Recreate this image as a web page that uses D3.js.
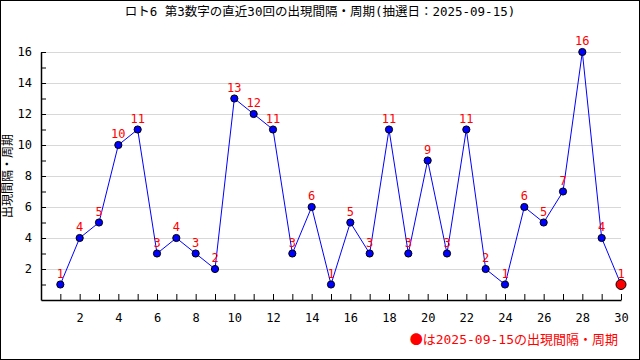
<!DOCTYPE html>
<html>
<head>
<meta charset="utf-8">
<script src="https://cdn.jsdelivr.net/npm/d3@7"></script>
<style>
  body { margin: 0; background: #fff; }
  svg text { font-family: "DejaVu Sans Mono", "Noto Sans CJK JP", monospace; }
</style>
</head>
<body>
<svg id="chart"></svg>
<script>
let draws = d3.range(1, 31);
let gaps = [1, 4, 5, 10, 11, 3, 4, 3, 2, 13, 12, 11, 3, 6, 1, 5, 3, 11, 3, 9, 3, 11, 2, 1, 6, 5, 7, 16, 4, 1];
let title = "ロト6 第3数字の直近30回の出現間隔・周期(抽選日：2025-09-15)";
let yLabel = "出現間隔・周期";
let legendMark = "●";
let legendText = "は2025-09-15の出現間隔・周期";

const width = 640;
const height = 360;

let svg = d3.select("svg#chart")
  .attr("width", width)
  .attr("height", height);

svg.append("rect")
  .attr("x", 0.5).attr("y", 0.5)
  .attr("width", width - 1).attr("height", height - 1)
  .attr("fill", "#fff").attr("stroke", "#000");

let margin = { top: 52, right: 19, bottom: 60, left: 41 };
let plotWidth = width - margin.left - margin.right;
let plotHeight = height - margin.top - margin.bottom;

let x = d3.scaleLinear().domain([0, 30]).range([0, plotWidth]);
let y = d3.scaleLinear().domain([0, 16]).range([plotHeight, 0]);

let plot = svg.append("g")
  .attr("transform", "translate(" + margin.left + "," + margin.top + ")");

// grid lines at even values
plot.append("g")
  .selectAll("line")
  .data(d3.range(2, 17, 2))
  .enter().append("line")
  .attr("x1", 0).attr("x2", plotWidth)
  .attr("y1", d => y(d) + 0.5).attr("y2", d => y(d) + 0.5)
  .attr("stroke", "#d8d8d8");

let xAxis = d3.axisBottom(x)
  .tickValues(d3.range(1, 31))
  .tickSizeInner(-6).tickSizeOuter(0)
  .tickFormat(d => d % 2 == 0 ? d : "");
let yAxis = d3.axisLeft(y)
  .tickValues(d3.range(1, 17))
  .tickSizeInner(-5).tickSizeOuter(0)
  .tickFormat(d => d % 2 == 0 ? d : "");

let xGroup = plot.append("g")
  .attr("transform", "translate(0," + plotHeight + ")")
  .call(xAxis);
xGroup.selectAll("text").attr("dy", "1.6em");

let yGroup = plot.append("g").call(yAxis);
yGroup.selectAll("text").attr("x", -9);

plot.selectAll(".domain").attr("stroke", "#000").attr("stroke-width", 1.5);
plot.selectAll(".tick line").attr("stroke", "#000");
plot.selectAll(".tick text").attr("font-size", 12).attr("fill", "#000");

let pairs = draws.map((d, i) => [d, gaps[i]]);

let line = d3.line()
  .x(d => x(d[0]))
  .y(d => y(d[1]));

plot.append("path")
  .datum(pairs)
  .attr("fill", "none")
  .attr("stroke", "#0000ff")
  .attr("stroke-width", 1)
  .attr("d", line);

plot.selectAll("circle")
  .data(pairs)
  .enter().append("circle")
  .attr("cx", d => x(d[0]))
  .attr("cy", d => y(d[1]))
  .attr("r", (d, i) => i == pairs.length - 1 ? 5 : 3.6)
  .attr("fill", (d, i) => i == pairs.length - 1 ? "#ff0000" : "#0000ff")
  .attr("stroke", "#000")
  .attr("stroke-width", 1);

plot.selectAll("text.val")
  .data(pairs)
  .enter().append("text")
  .attr("class", "val")
  .attr("x", d => x(d[0]))
  .attr("y", d => y(d[1]) - 7)
  .attr("text-anchor", "middle")
  .attr("font-size", 12)
  .attr("fill", "#ff0000")
  .text(d => d[1]);

svg.append("text")
  .attr("x", width / 2).attr("y", 16)
  .attr("text-anchor", "middle")
  .attr("font-size", 12.5)
  .attr("fill", "#000")
  .text(title);

svg.append("text")
  .attr("transform", "translate(12," + (margin.top + plotHeight / 2) + ") rotate(-90)")
  .attr("text-anchor", "middle")
  .attr("font-size", 12)
  .attr("fill", "#000")
  .text(yLabel);

let legend = svg.append("text")
  .attr("x", 618).attr("y", 344)
  .attr("text-anchor", "end")
  .attr("font-size", 13)
  .attr("fill", "#ff0000");
legend.append("tspan")
  .style("font-family", "'Noto Sans CJK JP'")
  .text(legendMark);
legend.append("tspan").text(legendText);
</script>
</body>
</html>
